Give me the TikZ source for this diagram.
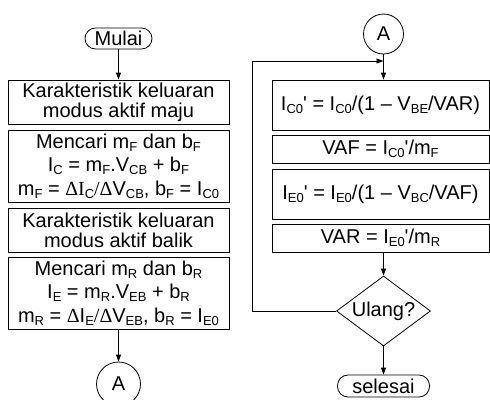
\documentclass[tikz,border=0pt]{standalone}
\usepackage{fontspec}
\setmainfont{Liberation Sans}
\newfontfamily\symfont{Liberation Serif}
\usetikzlibrary{shapes.geometric,arrows.meta}
\newcommand{\sbs}[1]{\raisebox{-3.2pt}{\fontsize{13}{13}\selectfont #1}}
\newcommand{\qt}{\textquotesingle}

\begin{document}
\begin{tikzpicture}[x=1pt,y=-1pt,line width=0.8pt,
    every node/.style={font=\fontsize{20}{20}\selectfont, inner sep=0pt},
    procbox/.style={draw, rectangle, align=center},
    leftbox/.style={procbox, minimum width=221pt},
    rightbox/.style={procbox, minimum width=217pt},
    termbox/.style={draw, rectangle, rounded corners=10.5pt},
    connector/.style={draw, circle},
    decision/.style={draw, diamond, aspect=1.34, minimum width=94pt, minimum height=70pt},
    flow/.style={-{Triangle[length=7pt,width=5pt]}}]
    \useasboundingbox (0,0) rectangle (490,399);
    %\draw[very thin,color=gray] (0,0) grid[step=10pt] (490,399);
    \node [termbox, minimum width=67pt, minimum height=21pt] (mulai) at (118.5,38.5) {Mulai};
    \node [leftbox, minimum height=44pt] (kar1) at (118.5,102) {Karakteristik keluaran\\modus aktif maju};
    \node [leftbox, minimum height=72pt] (cari1) at (118.5,166)
        {Mencari m\sbs{F} dan b\sbs{F}\\[3.5pt]
         I\sbs{C} = m\sbs{F}.V\sbs{CB} + b\sbs{F}\\[3.5pt]
         m\sbs{F} = {\symfont ΔI}\sbs{C}{\symfont /Δ}V\sbs{CB}, b\sbs{F} = I\sbs{C0}};
    \node [leftbox, minimum height=44pt] (kar2) at (118.5,230) {Karakteristik keluaran\\modus aktif balik};
    \node [leftbox, minimum height=72pt] (cari2) at (118.5,293)
        {Mencari m\sbs{R} dan b\sbs{R}\\[3.5pt]
         I\sbs{E} = m\sbs{R}.V\sbs{EB} + b\sbs{R}\\[3.5pt]
         m\sbs{R} = {\symfont Δ}I\sbs{E}{\symfont /Δ}V\sbs{EB}, b\sbs{R} = I\sbs{E0}};
    \node [connector, minimum size=44pt] (A1) at (118.5,384) {A};

    \node [connector, minimum size=40pt] (A2) at (383.5,34) {A};
    \node [rightbox, minimum height=50pt] (ic) at (380.5,105) {I\sbs{C0}\qt{} = I\sbs{C0}/(1 – V\sbs{BE}/VAR)};
    \node [rightbox, minimum height=28pt] (vaf) at (380.5,149) {VAF = I\sbs{C0}\qt/m\sbs{F}};
    \node [rightbox, minimum height=50pt] (ie) at (380.5,194) {I\sbs{E0}\qt{} = I\sbs{E0}/(1 – V\sbs{BC}/VAF)};
    \node [rightbox, minimum height=28pt] (var) at (380.5,238) {VAR = I\sbs{E0}\qt/m\sbs{R}};
    \node [decision] (ulang) at (383.5,311) {Ulang?};
    \node [termbox, minimum width=92pt, minimum height=22pt] (selesai) at (383.5,386) {selesai};

    \coordinate (join) at (383.5,61);
    \coordinate (back) at (252,61);

    \draw [flow] (mulai) -- (kar1);
    \draw [flow] (cari2) -- (A1);
    \draw [flow] (A2) -- (A2 |- ic.north);
    \draw [flow] (ulang |- var.south) -- (ulang);
    \draw [flow] (ulang) -- (selesai);
    \draw [flow] (ulang.west) -| (back) -- (join);
\end{tikzpicture}
\end{document}
